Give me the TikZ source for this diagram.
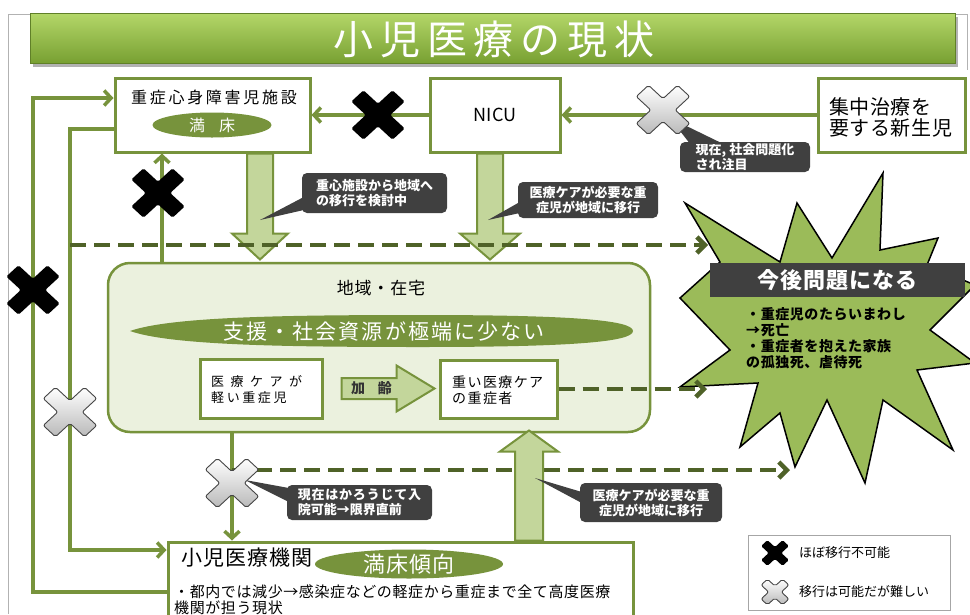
\documentclass[tikz,border=0pt]{standalone}
\usepackage{fontspec}
\setmainfont{Noto Sans CJK JP}
\usetikzlibrary{arrows.meta,calc,shapes.geometric}
\newcommand{\myfs}[2]{\fontsize{#1}{#2}\selectfont}
\newcommand{\myls}[1]{\addfontfeatures{LetterSpace=#1}}
\definecolor{gl}{RGB}{119,147,60}
\definecolor{dk}{RGB}{79,98,40}
\definecolor{lf}{RGB}{195,214,155}
\definecolor{cf}{RGB}{235,241,222}
\definecolor{co}{RGB}{64,64,64}
\definecolor{sf}{RGB}{155,187,89}
\definecolor{tt}{RGB}{180,215,105}
\definecolor{tb}{RGB}{120,160,50}
\tikzset{
  gline/.style={draw=gl, line width=3.5pt, line join=miter},
  garrow/.style={gline, -{Straight Barb[length=7pt,width=15pt]}},
  dline/.style={draw=dk, line width=4.5pt, dash pattern=on 16pt off 8pt},
  darrow/.style={dline, -{Straight Barb[length=8pt,width=16pt]}},
  box/.style={draw=gl, line width=3pt, fill=white, inner sep=0pt},
  bigarrow/.style={draw=gl, fill=lf, line width=2pt, line join=miter},
  callout/.style={fill=co, rounded corners=5pt, text=white, font=\myfs{13}{15}\bfseries, inner sep=0pt},
  gtext/.style={inner sep=0pt},
  pics/xblack/.style={code={\fill[black, rounded corners=1.5pt, xscale=1.08, rotate=45] (8,27) -- (8,8) -- (27,8) -- (27,-8) -- (8,-8) -- (8,-27) -- (-8,-27) -- (-8,-8) -- (-27,-8) -- (-27,8) -- (-8,8) -- (-8,27) -- cycle;}},
  pics/xgray/.style={code={\draw[draw=gray!55!black, line width=0.9pt, top color=white, bottom color=gray!55, rounded corners=2pt, xscale=1.08, rotate=45] (8,27) -- (8,8) -- (27,8) -- (27,-8) -- (8,-8) -- (8,-27) -- (-8,-27) -- (-8,-8) -- (-27,-8) -- (-27,8) -- (-8,8) -- (-8,27) -- cycle;}},
}
\begin{document}
\begin{tikzpicture}[x=1pt,y=-1pt]
\useasboundingbox (0,0) rectangle (970,614);
\clip (0,0) rectangle (970,614);
\fill[white] (0,0) rectangle (970,614);
% frame and title
\draw[gray!60, line width=1pt] (8,614) -- (8,14) -- (967,14) -- (967,70);
\fill[black!30] (33,17) rectangle (958,67);
\shade[top color=tt, bottom color=tb, draw=tb!80!black, line width=0.6pt] (30,13) rectangle (955,63);
\node[text=white, font=\myfs{40}{40}\myls{17}] (title) at (494,39) {小児医療の現状};
% boxes
\node[box, minimum width=195pt, minimum height=74pt] (shisetsu) at (212.5,115) {};
\node[box, minimum width=130pt, minimum height=74pt] (nicu) at (495,115) {};
\node[box, minimum width=147pt, minimum height=74pt] (shinsei) at (891.5,115) {};
\node[box, rounded corners=22pt, fill=cf, line width=2.5pt, minimum width=542pt, minimum height=169pt] (chiiki) at (379,347.5) {};
\node[box, minimum width=122pt, minimum height=59pt] (keishou) at (261,388.5) {};
\node[box, minimum width=117pt, minimum height=58pt] (omoi) at (498.5,389) {};
\node[box, minimum width=465pt, minimum height=110pt] (shoni) at (400.5,597) {};
% green connectors
\coordinate (L1top) at (33,98);
\coordinate (L1bot) at (33,592);
\draw[garrow] (shoni.west |- L1bot) -- (L1bot) -- (L1top) -- (shisetsu.west |- L1top);
\coordinate (L2top) at (70,129);
\coordinate (L2bot) at (70,550);
\draw[garrow] (shisetsu.west |- L2top) -- (L2top) -- (L2bot) -- (shoni.west |- L2bot);
\coordinate (L3) at (162,0);
\draw[garrow] (chiiki.north -| L3) -- (shisetsu.south -| L3);
\draw[garrow] (shinsei.west) -- (nicu.east);
\draw[garrow] (nicu.west) -- (shisetsu.east);
\coordinate (L4) at (232,0);
\draw[garrow] (chiiki.south -| L4) -- (shoni.north -| L4);
% starburst
\filldraw[fill=sf, draw=black, line width=1.5pt, line join=miter] (685,203) -- (780,262) -- (797,203) -- (832,258) -- (883,173) -- (880,250) -- (938,238) -- (927,265) -- (975,285) -- (930,330) -- (975,363) -- (917,370) -- (953,450) -- (883,400) -- (865,483) -- (827,400) -- (795,467) -- (780,413) -- (740,447) -- (758,383) -- (680,387) -- (730,350) -- (680,298) -- (720,262) -- cycle;
\node[fill=co, minimum width=255pt, minimum height=34pt, inner sep=0pt, text=white, font=\myfs{22}{22}\bfseries\myls{5}] (kongo) at (837.5,280) {今後問題になる};
\node[anchor=north west, align=left, inner sep=0pt, font=\myfs{14}{16}\bfseries\myls{4}] (kongotext) at (746,307) {・重症児のたらいまわし\\→死亡\\・重症者を抱えた家族\\の孤独死、虐待死};
% big arrows
\coordinate (xa1) at (260,0);
\path (shisetsu.south -| xa1) coordinate (A1);
\draw[bigarrow, shift={(A1)}] (-13,0) -- (13,0) -- (13,80) -- (28,80) -- (0,106) -- (-28,80) -- (-13,80) -- cycle;
\coordinate (xa2) at (490,0);
\path (nicu.south -| xa2) coordinate (A2);
\draw[bigarrow, shift={(A2)}] (-13,0) -- (13,0) -- (13,80) -- (30,80) -- (0,106) -- (-30,80) -- (-13,80) -- cycle;
% dashed arrows
\coordinate (D1s) at (70,245);
\coordinate (D1e) at (708,245);
\draw[darrow] (D1s) -- (D1e);
\coordinate (D2e) at (707,389);
\draw[darrow] (omoi.east) -- (D2e);
\coordinate (D3s) at (232,470);
\coordinate (D3e) at (790,470);
\draw[darrow] (D3s) -- (D3e);
\coordinate (xa3) at (529,0);
\path (shoni.north -| xa3) coordinate (A3);
\draw[bigarrow, shift={(A3)}] (-14,0) -- (14,0) -- (14,-89) -- (29,-89) -- (0,-110) -- (-29,-89) -- (-14,-89) -- cycle;
\path (keishou.east) ++(18,0) coordinate (K);
\draw[bigarrow, shift={(K)}] (0,-10.5) -- (55,-10.5) -- (55,-23) -- (93,0) -- (55,23) -- (55,10.5) -- (0,10.5) -- cycle;
\node[gtext, font=\myfs{14}{14}\bfseries, text=black!80] (karei) at ($(K)+(30,0)$) {加\hspace{13pt}齢};
% texts in boxes
\node[gtext, font=\myfs{16}{16}\myls{17}] (shisetsutext) at (214,97) {重症心身障害児施設};
\node[ellipse, fill=gl, minimum width=119pt, minimum height=25pt, inner sep=0pt, text=white, font=\myfs{16}{16}] (manshou) at (212,125) {満\hspace{14pt}床};
\node[gtext, font=\myfs{18}{18}] (nicutext) at (nicu) {NICU};
\node[gtext, anchor=west, align=left, font=\myfs{20}{21}\myls{3}] (shinseitext) at (829,117) {集中治療を\\要する新生児};
\node[gtext, font=\myfs{17}{17}\myls{5}] (chiikitext) at (381,288) {地域・在宅};
\fill[gl] (130,331) .. controls (170,317) and (280,315) .. (420,315) .. controls (570,315) and (633,320) .. (633,331) .. controls (633,342) and (570,347) .. (420,347) .. controls (280,347) and (170,345) .. (130,331) -- cycle;
\node[gtext, text=white, font=\myfs{21}{21}\myls{10}] (shientext) at (384,331) {支援・社会資源が極端に少ない};
\node[gtext, anchor=west, align=left, font=\myfs{13}{16}] (keishoutext) at (211,390) {{\myls{50}医療ケアが}\\{\myls{20}軽い重症児}};
\node[gtext, anchor=west, align=left, font=\myfs{14}{16}\myls{10}] (omoitext) at (452,390) {重い医療ケア\\の重症者};
\node[gtext, anchor=west, font=\myfs{21}{21}\myls{5}] (shonititle) at (181,558) {小児医療機関};
\node[ellipse, fill=gl, minimum width=188pt, minimum height=29pt, inner sep=0pt, text=white, font=\myfs{22}{22}\myls{5}] (manshou2) at (409,564) {満床傾向};
\node[gtext, anchor=west, align=left, font=\myfs{15}{16}\myls{4}] (shonitext) at (174,600) {・都内では減少→感染症などの軽症から重症まで全て高度医療\\機関が担う現状};
% callouts
\node[callout, minimum width=145pt, minimum height=40pt, align=left] (c1) at (374.5,193) {重心施設から地域へ\\の移行を検討中};
\coordinate (P1) at (260,220);
\fill[co] ($(c1.west)+(2,4)$) -- (P1) -- ($(c1.west)+(2,17)$) -- cycle;
\node[callout, minimum width=140pt, minimum height=36pt, align=center] (c2) at (588,200) {医療ケアが必要な重\\症児が地域に移行};
\coordinate (P2) at (488,220);
\fill[co] ($(c2.west)+(2,2)$) -- (P2) -- ($(c2.west)+(2,13)$) -- cycle;
\node[callout, minimum width=130pt, minimum height=30pt, align=left] (c3) at (745,157) {現在, 社会問題化\\され注目};
\coordinate (P3) at (670,118);
\fill[co] ($(c3.north)+(-55,2)$) -- (P3) -- ($(c3.north)+(-22,2)$) -- cycle;
\node[callout, minimum width=145pt, minimum height=35pt, align=left] (c4) at (359.5,502.5) {{\myls{6}現在はかろうじて入}\\院可能→限界直前};
\coordinate (P4) at (245,480);
\fill[co] ($(c4.west)+(2,-14.5)$) -- (P4) -- ($(c4.west)+(2,-0.5)$) -- cycle;
\node[callout, minimum width=142pt, minimum height=39pt, align=center] (c5) at (651,502.5) {医療ケアが必要な重\\症児が地域に移行};
\coordinate (P5) at (535,478);
\fill[co] ($(c5.west)+(2,-10.5)$) -- (P5) -- ($(c5.west)+(2,0.5)$) -- cycle;
% crosses
\pic at (378,115) {xblack};
\pic at (158,193) {xblack};
\pic at (33,290) {xblack};
\pic at (663,110) {xgray};
\pic at (70,412) {xgray};
\pic at (232,483) {xgray};
% legend
\node[draw=gray!70, line width=0.8pt, minimum width=202pt, minimum height=75pt, inner sep=0pt] (legend) at (849,572.5) {};
\pic[scale=0.52] at (775,553) {xblack};
\pic[scale=0.52] at (775,592) {xgray};
\node[gtext, anchor=west, font=\myfs{13}{13}] (leg1) at (799,553) {ほぼ移行不可能};
\node[gtext, anchor=west, font=\myfs{13}{13}] (leg2) at (799,592) {移行は可能だが難しい};
\end{tikzpicture}
\end{document}
